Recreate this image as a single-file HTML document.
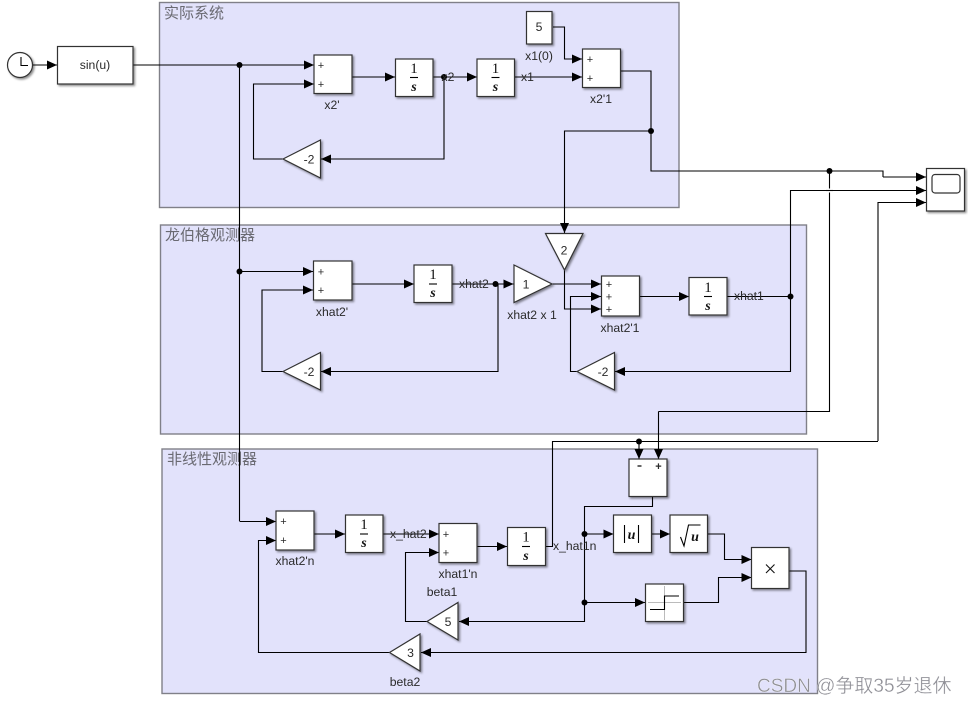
<!DOCTYPE html>
<html><head><meta charset="utf-8"><style>
html,body{margin:0;padding:0;background:#fff}
svg{display:block}
text{font-family:"Liberation Sans","Noto Sans CJK SC",sans-serif;font-size:12.2px;fill:#2a2a2a}
.l{fill:none;stroke:#000;stroke-width:1.1}
.a{fill:none;stroke:#000;stroke-width:1.1;marker-end:url(#ar)}
.b{fill:#fff;stroke:#333;stroke-width:1.2;filter:url(#sh)}
.p{fill:#e2e2fb;stroke:#808088;stroke-width:1.4}
.t{font-size:15px;fill:#6a6a72}
.m{text-anchor:middle}
.pm{font-size:11px;text-anchor:middle}
.one{font-family:"Liberation Serif",serif;font-size:15px;text-anchor:middle;fill:#111}
.s{font-family:"Liberation Serif",serif;font-size:14px;font-style:italic;font-weight:bold;text-anchor:middle;fill:#111}
</style></head><body>
<svg width="968" height="704" viewBox="0 0 968 704" xmlns="http://www.w3.org/2000/svg">
<defs>
<marker id="ar" markerUnits="userSpaceOnUse" markerWidth="11" markerHeight="10" refX="10" refY="5" orient="auto"><path d="M0 0.500L10 5L0 9.500Z" fill="#000"/></marker>
<filter id="sh" x="-20%" y="-20%" width="150%" height="150%"><feDropShadow dx="1.5" dy="1.5" stdDeviation="1" flood-color="#000" flood-opacity=".45"/></filter>
</defs>

<!-- panels -->
<rect class="p" x="159.500" y="2.500" width="519.500" height="205"/>
<rect class="p" x="160.500" y="225" width="646" height="209"/>
<rect class="p" x="162" y="449" width="655.500" height="244.500"/>
<text class="t" x="164" y="18">实际系统</text>
<text class="t" x="165" y="240">龙伯格观测器</text>
<text class="t" x="167" y="464">非线性观测器</text>

<!-- connectors: top -->
<path class="a" d="M32 65H57"/>
<path class="a" d="M133.500 65H314"/>
<path class="a" d="M352.500 77H395"/>
<path class="a" d="M433.500 77H477"/>
<path class="a" d="M444 77V159H321"/>
<path class="a" d="M283 159H253.500V84H314"/>
<path class="a" d="M514.500 77H582"/>
<path class="a" d="M553 27H564.500V59H582"/>
<path class="l" d="M620.500 71H651V171H883V177"/>
<path class="a" d="M883 177H926"/>
<path class="a" d="M651 131H564.500V233"/>
<path class="a" d="M790.500 296V190.500H926"/>
<path class="a" d="M878 441V202.500H926"/>
<path class="l" d="M829.500 171V411.500H658.500"/>
<path d="M829.500 188.500V192.500" stroke="#fff" stroke-width="2"/>
<path class="l" d="M826 190.500H833"/>

<!-- connectors: middle -->
<path class="l" d="M239.500 65V521"/>
<path class="a" d="M239.500 271.500H313"/>
<path class="a" d="M352.500 284H414"/>
<path class="a" d="M452.500 284H513.500"/>
<path class="a" d="M498 284V371.500H321"/>
<path class="a" d="M283 371.500H262V290H313"/>
<path class="a" d="M552.500 284H601"/>
<path class="a" d="M564.500 270V309H601"/>
<path class="a" d="M639.500 296.500H689"/>
<path class="l" d="M727.500 296.500H790.500"/>
<path class="a" d="M790.500 296.500V371.500H615"/>
<path class="a" d="M577 371.500H570.500V296.500H601"/>

<!-- connectors: bottom -->
<path class="a" d="M658.500 411.500V459"/>
<path class="a" d="M639 441V459"/>
<path class="l" d="M878 441.500H552.500V546.500H545.500"/>
<path class="a" d="M239.500 521.500H276"/>
<path class="a" d="M314.500 534H345"/>
<path class="a" d="M383.500 534H439"/>
<path class="a" d="M477.500 546.500H507"/>
<path class="a" d="M652.500 496.500V506.500H584.500V621.500H459"/>
<path class="a" d="M427 621.500H405.500V552.500H439"/>
<path class="a" d="M584.500 534H613.500"/>
<path class="a" d="M651.500 534H670"/>
<path class="a" d="M708 534H724.500V559.500H751.500"/>
<path class="a" d="M584.500 602.500H645"/>
<path class="a" d="M683.500 602.500H718.500V577.500H751.500"/>
<path class="a" d="M789.500 571H806V652.500H421"/>
<path class="a" d="M389 652.500H258.500V540.500H276"/>

<!-- junctions -->
<g fill="#000">
<circle cx="239.500" cy="65" r="3"/><circle cx="444" cy="77" r="3"/><circle cx="651" cy="131" r="3"/><circle cx="829.500" cy="171" r="3"/>
<circle cx="239.500" cy="271.500" r="3"/><circle cx="495.500" cy="284" r="3"/><circle cx="790.500" cy="296.500" r="3"/>
<circle cx="639" cy="441.500" r="3"/><circle cx="584.500" cy="534" r="3"/><circle cx="584.500" cy="602.500" r="3"/>
</g>

<!-- clock -->
<circle class="b" cx="20" cy="65" r="12.500"/>
<path class="l" d="M21 57V65.500H28"/>

<!-- blocks -->
<rect class="b" x="57.500" y="46.500" width="75.500" height="37.500"/>
<text class="m" x="95" y="69">sin(u)</text>

<rect class="b" x="314" y="55" width="38" height="38.500"/>
<text class="pm" x="321" y="69">+</text><text class="pm" x="321" y="88">+</text>
<text class="m" x="332" y="109">x2'</text>

<rect class="b" x="395.500" y="59" width="37.500" height="37.500"/>
<text class="one" x="414" y="73">1</text><path class="l" d="M410 77.500H418"/><text class="s" x="414" y="91">s</text>

<rect class="b" x="477" y="59" width="37.500" height="37.500"/>
<text class="one" x="495.500" y="73">1</text><path class="l" d="M491.500 77.500H499.500"/><text class="s" x="495.500" y="91">s</text>

<rect class="b" x="526.500" y="11.500" width="25.500" height="32.500"/>
<text class="m" x="539" y="31">5</text>
<text class="m" x="539" y="60">x1(0)</text>

<rect class="b" x="582.500" y="49" width="38" height="38.500"/>
<text class="pm" x="590" y="63">+</text><text class="pm" x="590" y="82">+</text>
<text class="m" x="601" y="103">x2'1</text>

<path class="b" d="M283 159L320.500 140V178Z"/>
<text class="m" x="309" y="163.500">-2</text>

<text x="441.500" y="81">x2</text>
<text x="521" y="81">x1</text>

<!-- scope -->
<rect class="b" x="926.500" y="168.500" width="38" height="42.500"/>
<rect x="932" y="174.500" width="28" height="18.500" rx="3" fill="#fff" stroke="#333" stroke-width="1.2"/>

<!-- middle blocks -->
<rect class="b" x="313.500" y="261" width="38.500" height="39"/>
<text class="pm" x="321" y="275.500">+</text><text class="pm" x="321" y="294">+</text>
<text class="m" x="332" y="316">xhat2'</text>

<rect class="b" x="414" y="265" width="38" height="37.500"/>
<text class="one" x="433" y="279">1</text><path class="l" d="M429 284H437"/><text class="s" x="433" y="297">s</text>
<text x="459" y="288">xhat2</text>

<path class="b" d="M514 265L552 284L514 302.500Z"/>
<text class="m" x="526" y="288.500">1</text>
<text class="m" x="532" y="319">xhat2 x 1</text>

<path class="b" d="M545.500 233.500H583L564.500 270Z"/>
<text class="m" x="564" y="254.500">2</text>

<rect class="b" x="601.500" y="276" width="38" height="40"/>
<text class="pm" x="609" y="288">+</text><text class="pm" x="609" y="300.500">+</text><text class="pm" x="609" y="313">+</text>
<text class="m" x="620" y="332">xhat2'1</text>

<rect class="b" x="689" y="277.500" width="38" height="37.500"/>
<text class="one" x="708" y="292">1</text><path class="l" d="M704 296.500H712"/><text class="s" x="708" y="310">s</text>
<text x="734" y="300">xhat1</text>

<path class="b" d="M283 371.500L320.500 352.500V390Z"/>
<text class="m" x="309" y="376">-2</text>
<path class="b" d="M577 371.500L614.500 352.500V390Z"/>
<text class="m" x="603" y="376">-2</text>

<!-- bottom blocks -->
<rect class="b" x="276" y="511" width="38" height="39"/>
<text class="pm" x="283.500" y="525">+</text><text class="pm" x="283.500" y="544">+</text>
<text class="m" x="295" y="565">xhat2'n</text>

<rect class="b" x="345.500" y="515" width="37.500" height="37.500"/>
<text class="one" x="364" y="529">1</text><path class="l" d="M360 534H368"/><text class="s" x="364" y="547">s</text>
<text x="390" y="538">x_hat2</text>

<rect class="b" x="439" y="523.500" width="38" height="39"/>
<text class="pm" x="446" y="538">+</text><text class="pm" x="446" y="556.500">+</text>
<text class="m" x="458" y="578">xhat1'n</text>

<rect class="b" x="507.500" y="527.500" width="38" height="38"/>
<text class="one" x="526" y="541.500">1</text><path class="l" d="M522 546.500H530"/><text class="s" x="526" y="560">s</text>
<text x="553" y="550">x_hat1n</text>

<text class="m" x="442" y="596">beta1</text>
<path class="b" d="M427 621.500L458 602.500V640Z"/>
<text class="m" x="448" y="626">5</text>

<path class="b" d="M389.500 652.500L420 634V671Z"/>
<text class="m" x="410.500" y="657">3</text>
<text class="m" x="405" y="686">beta2</text>

<rect class="b" x="629" y="459" width="38" height="37.500"/>
<path d="M637.500 466H641.500" stroke="#000" stroke-width="1.200"/>
<text class="pm" x="658.500" y="470" style="font-weight:bold">+</text>

<rect class="b" x="613.500" y="515" width="38" height="37.500"/>
<text class="s" x="631.500" y="539">u</text>
<path class="l" d="M624.500 525V543M638.500 525V543"/>

<rect class="b" x="670" y="515" width="37.500" height="37.500"/>
<path class="l" d="M680.500 537L684 546L688.500 525H700.500"/>
<text class="s" x="695" y="541">u</text>

<rect class="b" x="645.500" y="584" width="38" height="37.500"/>
<path d="M648 602.500H681M664.500 586V620" stroke="#bbb" stroke-width="1"/>
<path class="l" d="M650 609.500H664.500V596H679"/>

<rect class="b" x="751.500" y="547.500" width="37.500" height="41"/>
<path d="M766 564.500L774.500 573M774.500 564.500L766 573" stroke="#111" stroke-width="1.100"/>

<!-- watermark -->
<text x="757" y="692" style="font-size:19px;fill:#8f8f96;stroke:#fff;stroke-width:.3">CSDN @争取35岁退休</text>
</svg>
</body></html>
